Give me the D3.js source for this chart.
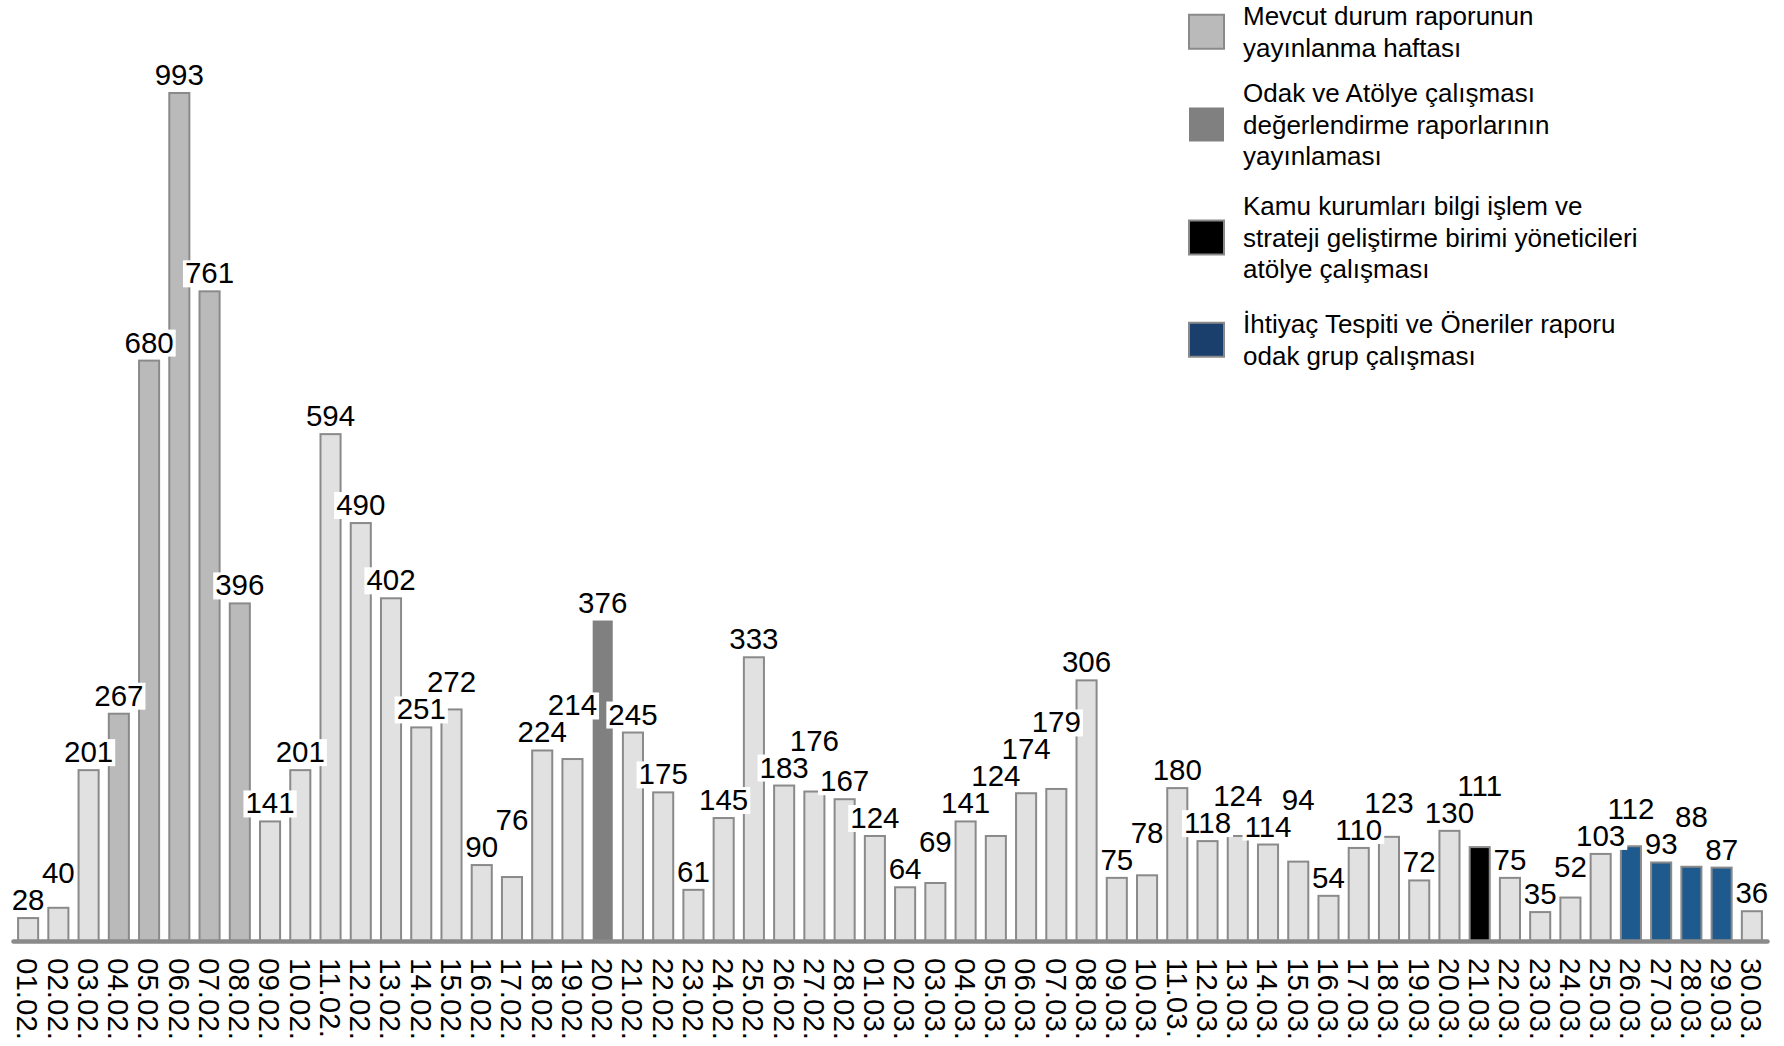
<!DOCTYPE html>
<html><head><meta charset="utf-8">
<script src="https://cdn.jsdelivr.net/npm/d3@7"></script>
<style>
body{margin:0;background:#fff}
svg{display:block;font-family:"Liberation Sans",Arial,sans-serif}
</style>
</head><body>
<svg id="c" width="1784" height="1046"></svg>
<script>
const dates = ["01.02.","02.02.","03.02.","04.02.","05.02.","06.02.","07.02.","08.02.","09.02.","10.02.",
"11.02.","12.02.","13.02.","14.02.","15.02.","16.02.","17.02.","18.02.","19.02.","20.02.",
"21.02.","22.02.","23.02.","24.02.","25.02.","26.02.","27.02.","28.02.",
"01.03.","02.03.","03.03.","04.03.","05.03.","06.03.","07.03.","08.03.","09.03.","10.03.",
"11.03.","12.03.","13.03.","14.03.","15.03.","16.03.","17.03.","18.03.","19.03.","20.03.",
"21.03.","22.03.","23.03.","24.03.","25.03.","26.03.","27.03.","28.03.","29.03.","30.03."];
const values = [28,40,201,267,680,993,761,396,141,201,
594,490,402,251,272,90,76,224,214,376,
245,175,61,145,333,183,176,167,
124,64,69,141,124,174,179,306,75,78,
180,118,124,114,94,54,110,123,72,130,
111,75,35,52,103,112,93,88,87,36];
// b = other days, m = Mevcut durum, o = Odak ve Atölye, k = Kamu kurumları, i = İhtiyaç Tespiti
const groups = ["b","b","b","m","m","m","m","m","b","b",
"b","b","b","b","b","b","b","b","b","o",
"b","b","b","b","b","b","b","b",
"b","b","b","b","b","b","b","b","b","b",
"b","b","b","b","b","b","b","b","b","b",
"k","b","b","b","b","i","i","i","i","b"];
const legendKeys = ["m","o","k","i"];
const legendLines = [
  ["Mevcut durum raporunun","yayınlanma haftası"],
  ["Odak ve Atölye çalışması","değerlendirme raporlarının","yayınlaması"],
  ["Kamu kurumları bilgi işlem ve","strateji geliştirme birimi yöneticileri","atölye çalışması"],
  ["İhtiyaç Tespiti ve Öneriler raporu","odak grup çalışması"]
];

const fills = {b:"#e1e1e1", m:"#bababa", o:"#808080", k:"#000000", i:"#1e5a8e"};
const strokes = {b:"#8a8a8a", m:"#8a8a8a", o:"none", k:"#8a8a8a", i:"#8a8a8a"};
const legendFills = {m:"#bababa", o:"#808080", k:"#000000", i:"#1a3f6d"};

const svg = d3.select("#c");
const baseY = 941;
const x = d3.scaleBand().domain(dates).range([13,1767]).paddingInner(0.27).paddingOuter(0.135);
const y = d3.scaleLinear().domain([0,1000]).range([baseY, 86]);

const data = dates.map((d,i)=>({d, v:values[i], g:groups[i]}));

// bars
svg.append("g").selectAll("rect").data(data).join("rect")
  .attr("x", d=> x(d.d) + 1)
  .attr("width", x.bandwidth() - 2)
  .attr("y", d=> y(d.v) + 1)
  .attr("height", d=> baseY - y(d.v) - 1)
  .attr("fill", d=> fills[d.g])
  .attr("stroke", d=> strokes[d.g])
  .attr("stroke-width", 2);

// axis
const ax = svg.append("g").attr("transform",`translate(0,${baseY})`)
  .call(d3.axisBottom(x).tickSize(0).tickSizeOuter(0));
ax.select(".domain").attr("stroke","#8a8a8a").attr("stroke-width",4.5).attr("stroke-linecap","round");
ax.selectAll(".tick text")
  .attr("transform","rotate(90)")
  .attr("x",17).attr("y",0).attr("dy","0.36em")
  .style("text-anchor","start")
  .attr("font-size",29.5)
  .attr("font-family","'Liberation Sans',Arial,sans-serif")
  .attr("fill","#000");

// value labels with white boxes, simple collision avoidance
const placed = [];
const lblG = svg.append("g");
const fs = 29.5;
data.forEach(d=>{
  const cx = x(d.d) + x.bandwidth()/2;
  const g = lblG.append("g");
  const bg = g.append("rect").attr("fill","#fff");
  const t = g.append("text").attr("x",cx).attr("text-anchor","middle")
    .attr("font-size",fs).attr("fill","#000").text(d.v);
  const w = t.node().getComputedTextLength();
  let base = y(d.v) - 7;
  let moved = true, guard = 0;
  while(moved && guard < 50){
    moved = false; guard++;
    for(const p of placed){
      const x0 = cx - w/2 - 2, x1 = cx + w/2 + 2, y0 = base - 23, y1 = base + 4;
      if (x0 < p.x1 && x1 > p.x0 && y0 < p.y1 && y1 > p.y0){
        base = p.y0 - 4; moved = true;
      }
    }
  }
  t.attr("y",base);
  bg.attr("x",cx-w/2-2).attr("y",base-23).attr("width",w+4).attr("height",27);
  placed.push({x0:cx-w/2-2, x1:cx+w/2+2, y0:base-23, y1:base+4});
});

// legend
const legendFirstBase = [25, 102, 215, 333];
const lineH = 31.5;
const lg = svg.append("g");
legendKeys.forEach((k,i)=>{
  const lines = legendLines[i];
  const b0 = legendFirstBase[i];
  const center = (b0 - 18 + b0 + (lines.length-1)*lineH) / 2;
  lg.append("rect").attr("x",1189).attr("y",center-17).attr("width",35).attr("height",34)
    .attr("fill",legendFills[k]).attr("stroke", k==="o" ? "none" : "#8a8a8a").attr("stroke-width",2);
  const t = lg.append("text").attr("x",1243).attr("font-size",26).attr("fill","#000");
  lines.forEach((ln,j)=>{
    t.append("tspan").attr("x",1243).attr("y", b0 + j*lineH).text(ln);
  });
});
</script>
</body></html>
